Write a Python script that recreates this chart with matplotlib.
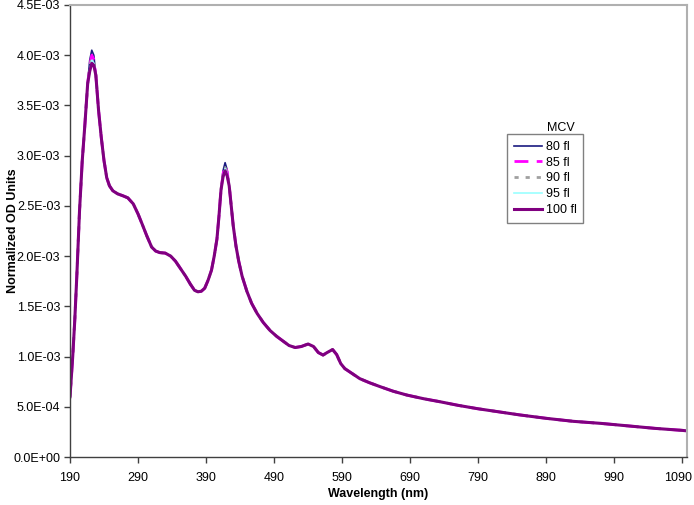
import matplotlib
matplotlib.use("Agg")
import matplotlib.pyplot as plt
import matplotlib.transforms as mtransforms
from matplotlib.ticker import FixedLocator, FuncFormatter

plt.rcParams['font.family'] = ['Liberation Sans', 'DejaVu Sans']

# Wavelengths (nm)
wavelength = [190, 194, 197, 200, 204, 208, 212, 216, 219, 222, 225, 228, 232, 236, 240,
              244, 248, 253, 260, 268, 275, 283, 290, 296, 303, 310, 316, 322, 330, 338,
              345, 352, 360, 367, 373, 378, 383, 388, 393, 398, 402, 406, 409, 412, 415,
              418, 421, 424, 427, 430, 434, 438, 443, 450, 457, 465, 474, 484, 494, 504,
              512, 521, 530, 540, 548, 555, 562, 568, 576, 582, 588, 594, 605, 616, 630,
              646, 665, 685, 710, 734, 760, 790, 820, 850, 890, 930, 970, 1010, 1050, 1090, 1097]

# Common curve (units of 1E-3)
od_common = [0.60, 1.00, 1.36, 1.80, 2.45, 2.95, 3.32, 3.72, 3.95, 4.05, 4.00, 3.80, 3.45, 3.18, 2.95,
             2.78, 2.70, 2.65, 2.62, 2.60, 2.58, 2.52, 2.42, 2.32, 2.20, 2.09, 2.05, 2.035, 2.03, 2.00,
             1.95, 1.88, 1.80, 1.72, 1.66, 1.645, 1.65, 1.68, 1.76, 1.86, 2.00, 2.17, 2.40, 2.66, 2.85,
             2.93, 2.86, 2.70, 2.50, 2.30, 2.10, 1.95, 1.80, 1.65, 1.53, 1.43, 1.34, 1.26, 1.20, 1.15,
             1.11, 1.09, 1.10, 1.125, 1.10, 1.04, 1.015, 1.04, 1.07, 1.02, 0.93, 0.88, 0.83, 0.78, 0.74,
             0.70, 0.655, 0.617, 0.58, 0.55, 0.515, 0.48, 0.45, 0.42, 0.385, 0.355, 0.335, 0.31, 0.285, 0.265, 0.26]

series_names = ['80 fl', '85 fl', '90 fl', '95 fl', '100 fl']
# Peak values per series (1E-3) at 219, 222, 225 nm and 415, 418, 421 nm
peak1_219 = [3.95, 3.90, 3.88, 3.86, 3.84]
peak1_222 = [4.05, 4.00, 3.97, 3.95, 3.92]
peak1_225 = [4.00, 3.96, 3.94, 3.92, 3.90]
peak2_415 = [2.85, 2.82, 2.81, 2.80, 2.79]
peak2_418 = [2.93, 2.90, 2.88, 2.87, 2.85]
peak2_421 = [2.86, 2.84, 2.83, 2.82, 2.80]

colors = ['#1a1a80', '#ff00ff', '#a0a0a0', '#99ffff', '#800080']
styles = ['-', (0, (5, 3)), (0, (1.5, 2.5)), '-', '-']
widths = [1.2, 2.0, 2.0, 1.2, 2.2]

fig = plt.figure(figsize=(6.94, 5.05), dpi=100)
ax = fig.add_axes([70 / 694, 48 / 505, 617 / 694, 452 / 505])

for i, name in enumerate(series_names):
    vals = list(od_common)
    for wl, arr in [(219, peak1_219), (222, peak1_222), (225, peak1_225),
                    (415, peak2_415), (418, peak2_418), (421, peak2_421)]:
        vals[wavelength.index(wl)] = arr[i]
    ax.plot(wavelength, [v * 1e-3 for v in vals], color=colors[i], linestyle=styles[i],
            linewidth=widths[i], label=name, solid_joinstyle='round')

ax.set_xlim(190, 1097)
ax.set_ylim(0, 4.5e-3)
ax.xaxis.set_major_locator(FixedLocator(list(range(190, 1091, 100))))
ax.yaxis.set_major_locator(FixedLocator([i * 5e-4 for i in range(10)]))
ax.yaxis.set_major_formatter(FuncFormatter(lambda v, p: "%.1E" % v if v > 1e-12 else "0.0E+00"))

ax.tick_params(axis='both', direction='out', length=4, width=1, color='#404040', labelsize=9, pad=3)
ax.tick_params(axis='x', pad=7)
for s in ['top', 'right']:
    ax.spines[s].set_color('#b0b0b0')
    ax.spines[s].set_linewidth(1.5)
for s in ['left', 'bottom']:
    ax.spines[s].set_color('#404040')
    ax.spines[s].set_linewidth(1)

ax.set_xlabel('Wavelength (nm)', fontsize=9, fontweight='bold')
ax.set_ylabel('Normalized OD Units', fontsize=9, fontweight='bold')
ax.xaxis.set_label_coords(0.5, -0.068)
ax.yaxis.set_label_coords(-0.082, 0.5)

# keep the last x tick label inside the figure
fig.canvas.draw()
last = ax.get_xticklabels()[-1]
last.set_transform(last.get_transform() + mtransforms.ScaledTranslation(-4 / 100, 0, fig.dpi_scale_trans))

leg = ax.legend(loc='upper left', bbox_to_anchor=(0.708, 0.7146), fontsize=9, frameon=True,
                fancybox=False, shadow=False, handlelength=2.3, handletextpad=0.25,
                labelspacing=0.3, borderpad=0.55, borderaxespad=0)
leg.get_frame().set_edgecolor('#606060')
leg.get_frame().set_linewidth(1)
ax.text(0.795, 0.727, 'MCV', transform=ax.transAxes, fontsize=9, ha='center', va='center')

fig.savefig('out.png', dpi=100)
